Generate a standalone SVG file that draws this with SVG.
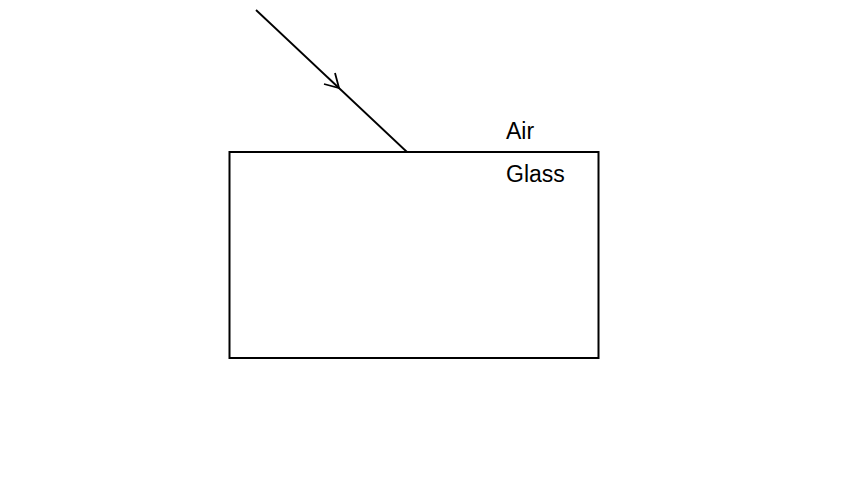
<svg xmlns="http://www.w3.org/2000/svg" width="854" height="504" viewBox="0 0 854 504">
<style>
.lbl{font-family:"Liberation Sans",Arial,sans-serif;font-size:23px;fill:#000}
.ray{stroke:#000;stroke-width:1.8;fill:none}
</style>
<rect width="854" height="504" fill="#fff"/>
<g id="glass-block">
<rect x="229.5" y="152" width="369" height="206" fill="none" stroke="#000" stroke-width="2"/>
</g>
<g id="connectors">
<line class="ray" x1="256" y1="10" x2="407" y2="152"/>
<polyline class="ray" points="335,73 339,88 324,84"/>
</g>
<g id="labels">
<text class="lbl" x="506" y="139">Air</text>
<text class="lbl" x="506" y="182">Glass</text>
</g>
</svg>
